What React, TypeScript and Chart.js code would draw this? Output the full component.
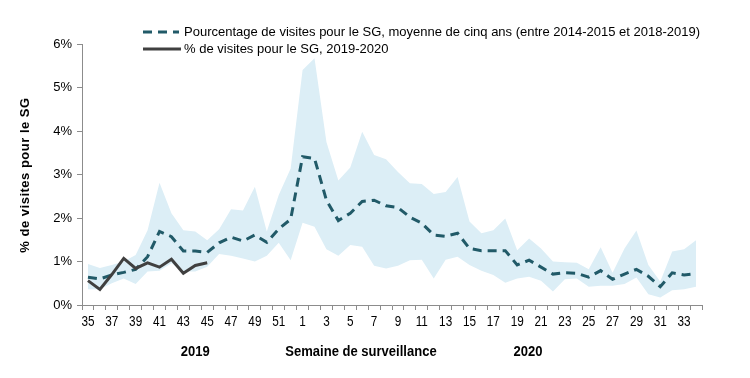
import React, { useEffect, useRef } from "react";
import { Chart, registerables } from "chart.js";

Chart.register(...registerables);

const weeks: string[] = [
  "35","36","37","38","39","40","41","42","43","44","45","46","47","48","49","50","51","52",
  "1","2","3","4","5","6","7","8","9","10","11","12","13","14","15","16","17","18","19","20",
  "21","22","23","24","25","26","27","28","29","30","31","32","33","34",
];

const avgFiveYears: number[] = [
  0.64, 0.60, 0.69, 0.75, 0.82, 1.11, 1.69, 1.57, 1.24, 1.24, 1.21, 1.43, 1.56, 1.47, 1.61, 1.44, 1.75, 1.97,
  3.41, 3.37, 2.41, 1.94, 2.11, 2.38, 2.41, 2.28, 2.24, 2.02, 1.88, 1.61, 1.58, 1.65, 1.30, 1.25, 1.25, 1.25,
  0.92, 1.03, 0.87, 0.71, 0.74, 0.73, 0.64, 0.79, 0.59, 0.71, 0.82, 0.66, 0.42, 0.74, 0.69, 0.72,
];

const current2019_2020: (number | null)[] = [
  0.56, 0.36, 0.70, 1.07, 0.84, 0.97, 0.87, 1.05, 0.73, 0.91, 0.97,
];

const upperBound: number[] = [
  0.94, 0.85, 0.92, 1.0, 1.15, 1.72, 2.81, 2.11, 1.72, 1.69, 1.49, 1.74, 2.2, 2.17, 2.72, 1.69, 2.53, 3.14,
  5.40, 5.67, 3.75, 2.86, 3.16, 3.98, 3.45, 3.35, 3.06, 2.80, 2.78, 2.55, 2.60, 2.94, 1.92, 1.65, 1.72, 1.99,
  1.26, 1.53, 1.30, 1.0, 0.98, 0.97, 0.82, 1.33, 0.74, 1.30, 1.71, 0.92, 0.54, 1.23, 1.28, 1.49,
];

const lowerBound: number[] = [
  0.36, 0.36, 0.50, 0.61, 0.48, 0.77, 0.79, 0.96, 0.77, 0.77, 0.88, 1.17, 1.13, 1.07, 1.0, 1.13, 1.43, 1.03,
  1.89, 1.80, 1.28, 1.13, 1.38, 1.34, 0.90, 0.84, 0.90, 1.03, 1.04, 0.61, 1.04, 1.11, 0.92, 0.79, 0.69, 0.51,
  0.61, 0.65, 0.56, 0.31, 0.59, 0.61, 0.42, 0.44, 0.44, 0.48, 0.63, 0.25, 0.17, 0.34, 0.36, 0.42,
];

const yTicks: number[] = [0, 1, 2, 3, 4, 5, 6];

const yTitle = "% de visites pour le SG";

const legendLabels: string[] = [
  "Pourcentage de visites pour le SG, moyenne de cinq ans (entre 2014-2015 et 2018-2019)",
  "% de visites pour le SG, 2019-2020",
];

const bottomLabels: { text: string; at: number }[] = [
  { text: "2019", at: 9.0 },
  { text: "Semaine de surveillance", at: 22.9 },
  { text: "2020", at: 36.9 },
];

const AVG_COLOR = "#215a68";
const CUR_COLOR = "#404040";
const BAND_COLOR = "#dceef6";
const AXIS_COLOR = "#8c8c8c";
const FONT = "Arial, 'Liberation Sans', sans-serif";

const extrasPlugin = {
  id: "extras",
  afterDraw(chart: any) {
    const ctx = chart.ctx as CanvasRenderingContext2D;
    const x = chart.scales.x;
    ctx.save();
    ctx.fillStyle = "#000";
    // x tick labels (narrow)
    ctx.font = `14px ${FONT}`;
    ctx.textAlign = "center";
    ctx.textBaseline = "middle";
    weeks.forEach((w, i) => {
      if (i % 2 !== 0) return;
      const px = x.getPixelForValue(i);
      ctx.save();
      ctx.translate(px, 322);
      ctx.scale(0.84, 1);
      ctx.fillText(w, 0, 0);
      ctx.restore();
    });
    // bottom labels
    ctx.font = `bold 14px ${FONT}`;
    bottomLabels.forEach((b) => {
      ctx.save();
      ctx.translate(x.getPixelForValue(b.at), 352);
      ctx.scale(0.93, 1);
      ctx.fillText(b.text, 0, 0);
      ctx.restore();
    });
    // y title
    ctx.save();
    ctx.translate(25, 175);
    ctx.rotate(-Math.PI / 2);
    ctx.font = `bold 13px ${FONT}`;
    (ctx as any).letterSpacing = "0.5px";
    ctx.fillText(yTitle, 0, 0);
    ctx.restore();
    // legend
    ctx.font = `13px ${FONT}`;
    ctx.textAlign = "left";
    const lx = 143;
    const ys = [32, 49];
    ctx.lineWidth = 3;
    ctx.strokeStyle = AVG_COLOR;
    ctx.setLineDash([9, 6]);
    ctx.beginPath();
    ctx.moveTo(lx, ys[0]);
    ctx.lineTo(lx + 36, ys[0]);
    ctx.stroke();
    ctx.setLineDash([]);
    ctx.strokeStyle = CUR_COLOR;
    ctx.beginPath();
    ctx.moveTo(lx, ys[1]);
    ctx.lineTo(lx + 38, ys[1]);
    ctx.stroke();
    ctx.fillStyle = "#000";
    legendLabels.forEach((t, i) => ctx.fillText(t, 184, ys[i]));
    ctx.restore();
  },
};

export default function App() {
  const ref = useRef<HTMLCanvasElement>(null);
  useEffect(() => {
    document.body.style.margin = "0";
    const chart = new Chart(ref.current as HTMLCanvasElement, {
      type: "line",
      data: {
        labels: weeks,
        datasets: [
          {
            label: "upper",
            data: upperBound,
            borderWidth: 0,
            pointRadius: 0,
            backgroundColor: BAND_COLOR,
            fill: "+1",
            tension: 0,
            order: 3,
          },
          {
            label: "lower",
            data: lowerBound,
            borderWidth: 0,
            pointRadius: 0,
            backgroundColor: BAND_COLOR,
            fill: false,
            tension: 0,
            order: 3,
          },
          {
            label: legendLabels[0],
            data: avgFiveYears,
            borderColor: AVG_COLOR,
            borderWidth: 3,
            borderDash: [9, 6],
            pointRadius: 0,
            fill: false,
            tension: 0,
            order: 1,
          },
          {
            label: legendLabels[1],
            data: current2019_2020,
            borderColor: CUR_COLOR,
            borderWidth: 3,
            pointRadius: 0,
            fill: false,
            tension: 0,
            order: 0,
          },
        ],
      },
      options: {
        animation: false,
        responsive: false,
        layout: { padding: { left: 0, right: 48, top: 44, bottom: 0 } },
        plugins: { legend: { display: false }, tooltip: { enabled: false } },
        scales: {
          x: {
            type: "category",
            offset: true,
            grid: {
              offset: true,
              drawOnChartArea: false,
              drawTicks: true,
              tickLength: 5,
              color: AXIS_COLOR,
            },
            border: { color: AXIS_COLOR, width: 1 },
            ticks: {
              autoSkip: false,
              maxRotation: 0,
              callback: () => "",
            },
            afterFit: (s: any) => {
              s.height = 73;
            },
          },
          y: {
            min: 0,
            max: 6,
            afterBuildTicks: (s: any) => {
              s.ticks = yTicks.map((v) => ({ value: v }));
            },
            grid: {
              drawOnChartArea: false,
              drawTicks: true,
              tickLength: 5,
              color: AXIS_COLOR,
            },
            border: { color: AXIS_COLOR, width: 1 },
            ticks: {
              color: "#000",
              font: { family: FONT, size: 13 },
              padding: 5,
              callback: (v: any) => v + "%",
            },
            afterFit: (s: any) => {
              s.width = 82;
            },
          },
        },
      },
      plugins: [extrasPlugin],
    });
    return () => chart.destroy();
  }, []);
  return <canvas ref={ref} width={750} height={378} style={{ display: "block" }} />;
}
